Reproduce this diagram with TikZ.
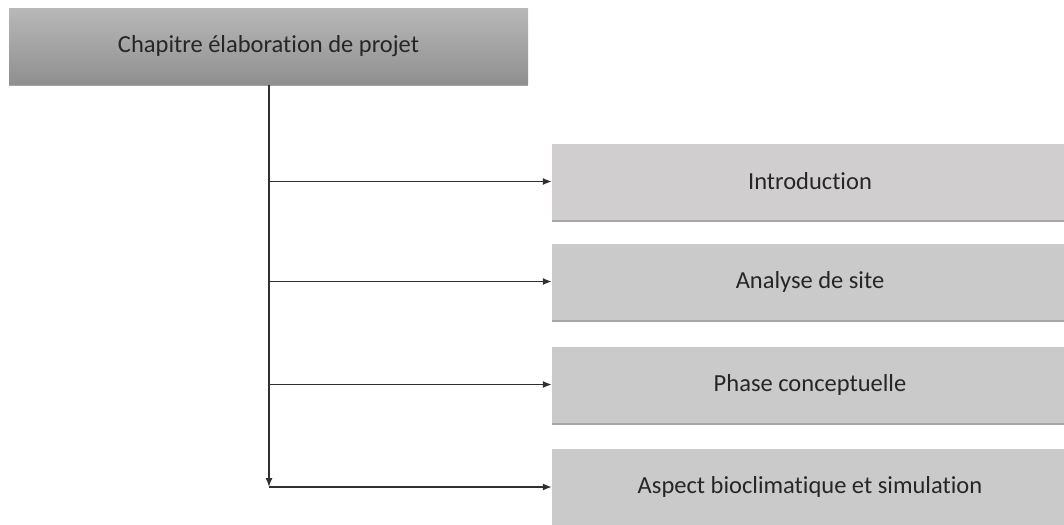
\documentclass[tikz,border=0pt]{standalone}
\usepackage{fontspec}
\setmainfont{Carlito}[Ligatures=NoCommon]
\usetikzlibrary{arrows.meta,shadows,calc}
\definecolor{topA}{HTML}{B8B8B8}
\definecolor{topB}{HTML}{8F8F8F}
\definecolor{boxfill}{HTML}{CACACA}
\definecolor{boxfillA}{HTML}{D0CECE}
\definecolor{txt}{HTML}{262626}
\definecolor{lin}{HTML}{303030}
\tikzset{
  titlebox/.style={rectangle, minimum width=519pt, minimum height=76pt, inner sep=0pt,
    top color=topA, bottom color=topB, draw=none, text=txt,
    font=\fontsize{24.5}{29}\selectfont,
    drop shadow={shadow xshift=0pt, shadow yshift=-2pt, fill=black, opacity=0.35}},
  itembox/.style={rectangle, minimum width=516pt, minimum height=76pt, inner sep=0pt,
    fill=boxfill, draw=none, text=txt, font=\fontsize{24.5}{29}\selectfont,
    drop shadow={shadow xshift=0pt, shadow yshift=-2pt, fill=black, opacity=0.35}},
  conn/.style={draw=lin, line width=1.4pt, -{Latex[length=9pt,width=7pt]}},
}
\begin{document}
\begin{tikzpicture}[x=1pt,y=-1pt]
\useasboundingbox[fill=white] (0,0) rectangle (1064,524);
\begin{scope}
\clip (0,0) rectangle (1064,524);
\node[titlebox] (top) at (268.5,46.5) {Chapitre élaboration de projet};
\node[itembox, fill=boxfillA] (b1) at (810,181.5) {Introduction};
\node[itembox] (b2) at (810,281.5) {Analyse de site};
\node[itembox] (b3) at (810,384.5) {Phase conceptuelle};
\node[itembox] (b4) at (810,487) {Aspect bioclimatique et simulation};
\end{scope}
\coordinate (j1) at (269,181.5);
\coordinate (j2) at (269,281.5);
\coordinate (j3) at (269,384.5);
\coordinate (j4) at (269,487);
\draw[conn] (top.south -| j1) -- (j4);
\draw[conn] (j1) -- (b1.west);
\draw[conn] (j2) -- (b2.west);
\draw[conn] (j3) -- (b3.west);
\draw[conn] (j4) -- (b4.west);
\end{tikzpicture}
\end{document}
